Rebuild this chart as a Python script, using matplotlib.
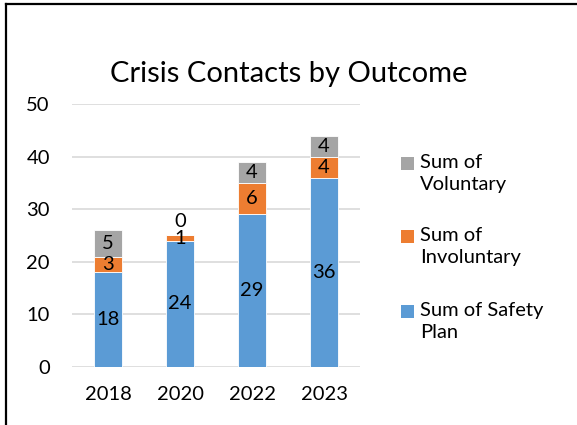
import matplotlib.pyplot as plt
from matplotlib.patches import Rectangle
from matplotlib.lines import Line2D
import numpy as np

plt.rcParams['font.family'] = ['Lato', 'DejaVu Sans']

years = ["2018", "2020", "2022", "2023"]
safety_plan = [18, 24, 29, 36]
involuntary = [3, 1, 6, 4]
voluntary = [5, 0, 4, 4]

series = [
    ("Sum of Safety\nPlan", safety_plan, "#5B9BD5"),
    ("Sum of\nInvoluntary", involuntary, "#ED7D31"),
    ("Sum of\nVoluntary", voluntary, "#A5A5A5"),
]

fig = plt.figure(figsize=(5.77, 4.25), dpi=100)
ax = fig.add_axes([0.1248, 0.1365, 0.4992, 0.6188])

x = np.arange(len(years))
bottom = np.zeros(len(years))
for name, vals, color in series:
    bars = ax.bar(x, vals, width=0.4, bottom=bottom, color=color,
                  edgecolor="white", linewidth=0.6, zorder=3)
    texts = ax.bar_label(bars, labels=[str(v) for v in vals],
                         label_type="center", fontsize=14.5, color="black",
                         zorder=4)
    # empty segments: lift the label off the bar top
    for t, v in zip(texts, vals):
        if v == 0:
            t.xyann = (0, 10)
    bottom += np.array(vals)

ax.set_xlim(-0.5, len(years) - 0.5)
ax.set_ylim(0, 50)
ax.set_yticks(range(0, 51, 10))
ax.set_xticks(x)
ax.set_xticklabels(years)
ax.tick_params(axis="both", length=0, labelsize=14.5, colors="black")
ax.tick_params(axis="y", pad=16)
ax.tick_params(axis="x", pad=14)
ax.grid(axis="y", color="#D9D9D9", linewidth=1.2, zorder=0)
for s in ax.spines.values():
    s.set_visible(False)

fig.text(0.5, 0.826, "Crisis Contacts by Outcome", ha="center", va="center",
         fontsize=21)

# legend, top entry is the top of the stack
entry_y = [0.617, 0.445, 0.268]
for (name, vals, color), y in zip(series[::-1], entry_y):
    fig.patches.append(Rectangle((401 / 577, y - 7 / 425), 13 / 577, 13 / 425,
                                 transform=fig.transFigure, facecolor=color,
                                 edgecolor="none"))
    fig.text(420 / 577, y + 9 / 425, name, ha="left", va="top", fontsize=14.5,
             linespacing=1.35)

# frame on the left and top edges
fig.add_artist(Line2D([6 / 577, 6 / 577], [0, 421 / 425], color="black",
                      linewidth=1.6, transform=fig.transFigure))
fig.add_artist(Line2D([6 / 577, 1], [421 / 425, 421 / 425], color="black",
                      linewidth=1.6, transform=fig.transFigure))

fig.savefig("out.png", dpi=100, facecolor="white")
